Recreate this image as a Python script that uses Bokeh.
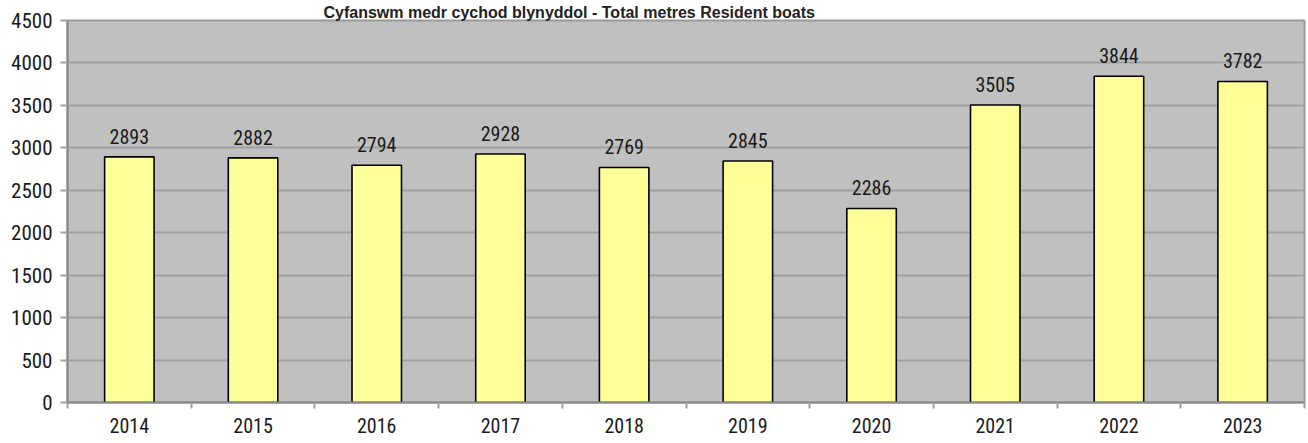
from bokeh.plotting import figure
from bokeh.models import ColumnDataSource, FixedTicker, LabelSet, Range1d
from bokeh.core.properties import value
from bokeh.embed import file_html
from bokeh.resources import INLINE

years = ["2014", "2015", "2016", "2017", "2018", "2019", "2020", "2021", "2022", "2023"]
metres = [2893, 2882, 2794, 2928, 2769, 2845, 2286, 3505, 3844, 3782]
y_ticks = [0, 500, 1000, 1500, 2000, 2500, 3000, 3500, 4000, 4500]
title_text = "Cyfanswm medr cychod blynyddol - Total metres Resident boats"

FONT = "'Roboto Condensed', 'Liberation Sans Narrow', 'Arial Narrow', sans-serif"

xc = [i + 0.5 for i in range(len(years))]
src = ColumnDataSource(dict(x=xc, top=metres, lab=[str(v) for v in metres]))

W, H = 1306, 440
p = figure(width=W, height=H, output_backend="svg", toolbar_location=None,
           x_range=Range1d(0, len(years)), y_range=Range1d(0, 4500),
           title=title_text,
           min_border_left=67, min_border_right=2, min_border_top=20, min_border_bottom=38)
p.title.align = "left"
p.title.offset = 256
p.title.text_font = "'Liberation Sans', Arial, sans-serif"
p.title.text_font_size = "16px"
p.title.text_font_style = "bold"
p.title.text_color = "#222222"
p.title.standoff = 0

p.background_fill_color = "#c0c0c0"
p.border_fill_color = "white"
p.outline_line_color = "#999999"
p.outline_line_width = 2

p.vbar(x="x", top="top", width=0.4, source=src, fill_color="#ffff99",
       line_color="black", line_width=1.6)

labels = LabelSet(x="x", y="top", text="lab", source=src, text_align="center",
                  text_baseline="bottom", y_offset=13, text_font_size="20px",
                  text_font=value(FONT), text_color="#1a1a1a")
p.add_layout(labels)

p.xgrid.visible = False
p.ygrid.grid_line_color = "#a0a0a0"
p.ygrid.grid_line_width = 2
p.yaxis.ticker = FixedTicker(ticks=y_ticks)
p.xaxis.ticker = FixedTicker(ticks=xc, minor_ticks=list(range(len(years) + 1)))
p.xaxis.major_label_overrides = {x: y for x, y in zip(xc, years)}

for ax in (p.xaxis[0], p.yaxis[0]):
    ax.axis_line_color = "#888888"
    ax.axis_line_width = 2
    ax.major_label_text_font = FONT
    ax.major_label_text_color = "#1a1a1a"

p.xaxis.major_label_text_font_size = "20px"
p.yaxis.major_label_text_font_size = "21px"

p.xaxis.major_tick_line_color = None
p.xaxis.major_tick_out = 6
p.xaxis.minor_tick_line_color = "#a0a0a0"
p.xaxis.minor_tick_out = 6
p.xaxis.minor_tick_in = 0
p.xaxis.minor_tick_line_width = 2
p.xaxis.major_label_standoff = 9

p.yaxis.major_tick_line_color = "#a0a0a0"
p.yaxis.major_tick_line_width = 2
p.yaxis.major_tick_out = 7
p.yaxis.major_tick_in = 0
p.yaxis.minor_tick_line_color = None
p.yaxis.major_label_standoff = 8

open("out.html", "w").write(file_html(p, INLINE))
